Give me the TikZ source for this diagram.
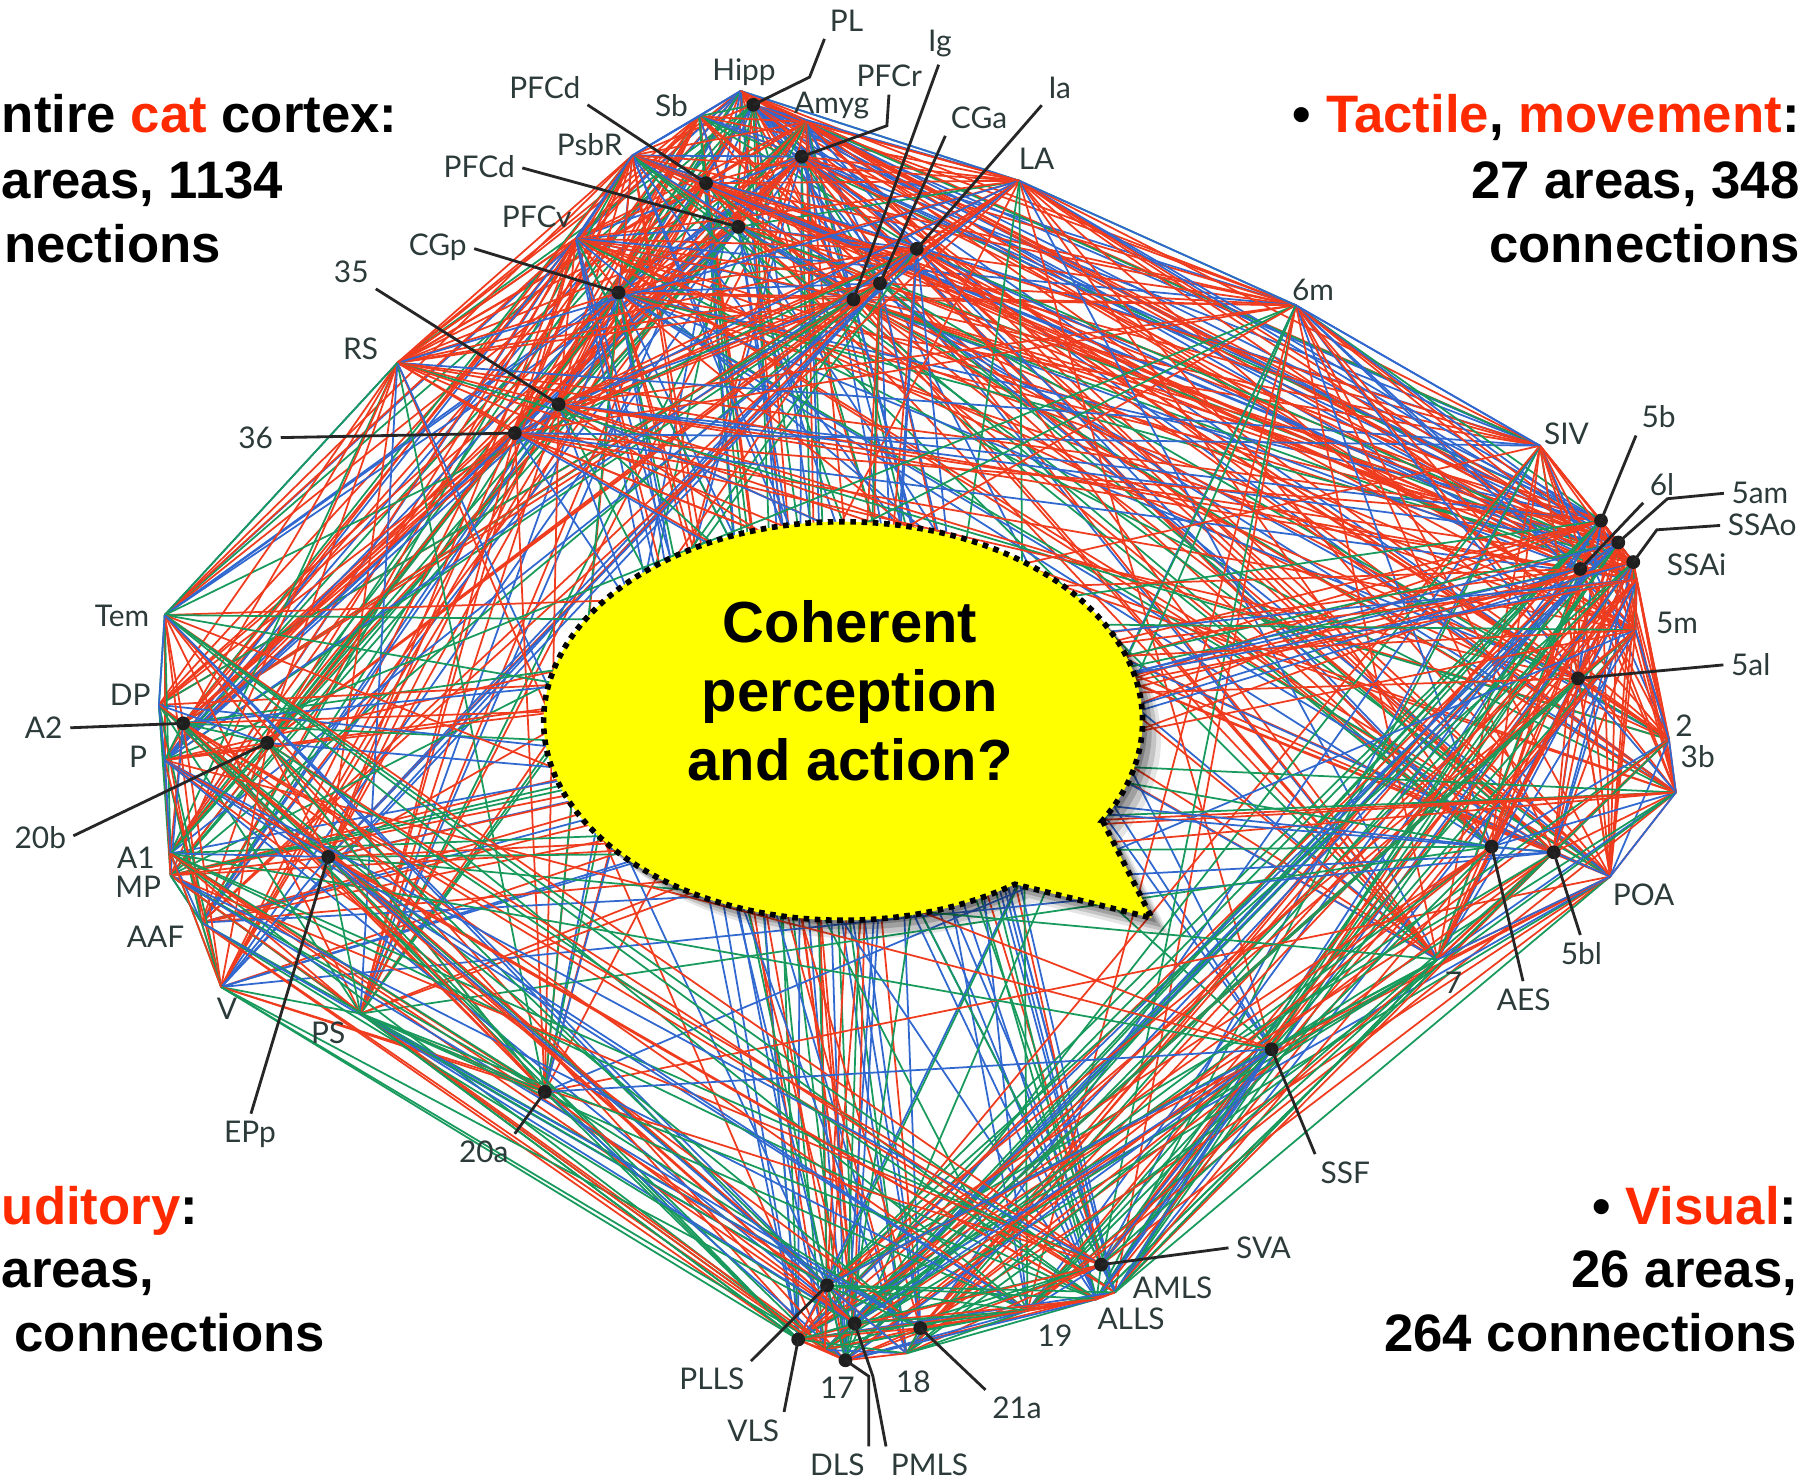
\documentclass[tikz,border=0pt]{standalone}
\usepackage{fontspec}
\setmainfont{Liberation Sans}
\newfontfamily\areafont{Lato}
\usepackage{tikz}

\definecolor{netred}{HTML}{F03C1E}
\definecolor{netgreen}{HTML}{189A5C}
\definecolor{netblue}{HTML}{3068D0}
\definecolor{areagray}{HTML}{2C3A3A}
\definecolor{hired}{HTML}{FF2A00}
\definecolor{bubble}{HTML}{FFFF00}

% areas: name/group (0 frontal-limbic, 1 somatomotor, 2 auditory, 3 visual)
\def\arealist{Hipp/0, PL/0, Sb/0, Amyg/0, PFCr/0, PFCd1/0, PFCd2/0, PsbR/0, PFCv/0, CGp/0,
  Ig/0, CGa/0, Ia/0, LA/0, ar35/0, RS/0, ar36/0,
  ar6m/1, SIV/1, ar5b/1, ar6l/1, ar5am/1, SSAo/1, SSAi/1, ar5m/1, ar5al/1, ar2/1, ar3b/1,
  POA/1, ar5bl/1, AES/1, ar7/1,
  Tem/2, DP/2, A2/2, P/2, ar20b/2, A1/2, MP/2, AAF/2, V/2, EPp/2, PS/2, ar20a/2,
  SSF/3, SVA/3, AMLS/3, ALLS/3, ar19/3, ar21a/3, ar18/3, PMLS/3, ar17/3, DLS/3, VLS/3, PLLS/3}
% link probability and colour mix per pair of groups
\def\plink{{0.92,0.60,0.50,0.35, 0.60,0.90,0.25,0.45, 0.50,0.25,0.80,0.40, 0.35,0.45,0.40,0.80}}
\def\pred{{0.78,0.65,0.55,0.30, 0.65,0.72,0.45,0.35, 0.55,0.45,0.50,0.30, 0.30,0.35,0.30,0.35}}
\def\pgreen{{0.08,0.12,0.25,0.25, 0.12,0.08,0.30,0.45, 0.25,0.30,0.35,0.45, 0.25,0.45,0.45,0.40}}

\tikzset{
  area/.style={font=\areafont\fontsize{8.5}{9}\selectfont, text=areagray, inner sep=1pt},
  lead/.style={line width=0.8pt, black!85, shorten <=1pt},
  link/.style={line width=0.5pt},
  big/.style={font=\bfseries\fontsize{15}{18.4}\selectfont, inner sep=0pt},
}

\def\bubblepath{(957.2,712.5) -- (1000,797) -- (881.1,767.7)
  arc[start angle=55, end angle=390, x radius=260, y radius=173] -- cycle}

\begin{document}
\begin{tikzpicture}[x=0.011518cm, y=-0.011518cm]
  \useasboundingbox (0,0) rectangle (1568,1286);
  \fill[white] (0,0) rectangle (1568,1286);

  % frontal and limbic areas
  \coordinate (Hipp)  at (643,79);
  \coordinate (PL)    at (654,91);
  \coordinate (Sb)    at (607,101);
  \coordinate (Amyg)  at (700,106);
  \coordinate (PFCr)  at (696,136);
  \coordinate (PFCd1) at (613,159);
  \coordinate (PFCd2) at (641,197);
  \coordinate (PsbR)  at (549,135);
  \coordinate (PFCv)  at (500,207);
  \coordinate (CGp)   at (537,254);
  \coordinate (Ig)    at (741,260);
  \coordinate (CGa)   at (764,246);
  \coordinate (Ia)    at (796,216);
  \coordinate (LA)    at (885,157);
  \coordinate (ar35)  at (485,351);
  \coordinate (RS)    at (345,315);
  \coordinate (ar36)  at (447,376);
  % somatosensory and motor areas
  \coordinate (ar6m)  at (1125,265);
  \coordinate (SIV)   at (1337,387);
  \coordinate (ar5b)  at (1390,452);
  \coordinate (ar6l)  at (1372,494);
  \coordinate (ar5am) at (1405,471);
  \coordinate (SSAo)  at (1418,488);
  \coordinate (SSAi)  at (1421,503);
  \coordinate (ar5m)  at (1420,547);
  \coordinate (ar5al) at (1370,589);
  \coordinate (ar2)   at (1449,642);
  \coordinate (ar3b)  at (1455,688);
  \coordinate (POA)   at (1398,761);
  \coordinate (ar5bl) at (1349,740);
  \coordinate (AES)   at (1295,735);
  \coordinate (ar7)   at (1248,833);
  % auditory areas
  \coordinate (Tem)   at (143,534);
  \coordinate (DP)    at (138,612);
  \coordinate (A2)    at (159,628);
  \coordinate (P)     at (143,660);
  \coordinate (ar20b) at (232,645);
  \coordinate (A1)    at (148,741);
  \coordinate (MP)    at (148,760);
  \coordinate (AAF)   at (175,801);
  \coordinate (V)     at (192,857);
  \coordinate (EPp)   at (285,744);
  \coordinate (PS)    at (313,880);
  \coordinate (ar20a) at (473,948);
  % visual areas
  \coordinate (SSF)   at (1104,911);
  \coordinate (SVA)   at (956,1098);
  \coordinate (AMLS)  at (968,1122);
  \coordinate (ALLS)  at (952,1128);
  \coordinate (ar19)  at (892,1138);
  \coordinate (ar21a) at (799,1153);
  \coordinate (ar18)  at (787,1175);
  \coordinate (PMLS)  at (742,1149);
  \coordinate (ar17)  at (716,1172);
  \coordinate (DLS)   at (734,1181);
  \coordinate (VLS)   at (693,1163);
  \coordinate (PLLS)  at (718,1116);

  % connections
  \pgfmathsetseed{1134}
  \foreach \a/\ga [count=\i] in \arealist {
    \foreach \b/\gb [count=\j] in \arealist {
      \ifnum\j>\i\relax
        \pgfmathtruncatemacro\k{4*\ga+\gb}
        \pgfmathsetmacro\p{\plink[\k]}
        \pgfmathsetmacro\r{rnd}
        \pgfmathsetmacro\rb{rnd}
        \pgfmathtruncatemacro\keep{\r<\p ? 1 : 0}
        \ifnum\keep=1\relax
          \pgfmathsetmacro\pr{\pred[\k]}
          \pgfmathsetmacro\pg{\pgreen[\k]}
          \pgfmathtruncatemacro\c{\rb<\pr ? 0 : (\rb<\pr+\pg ? 1 : 2)}
          \ifcase\c \def\col{netred}\or \def\col{netgreen}\else \def\col{netblue}\fi
          \draw[link,\col] (\a) -- (\b);
        \fi
      \fi
    }
  }
  % outline of the network
  \foreach \a/\b/\col in {Hipp/Sb/netblue, Sb/PsbR/netblue, PsbR/PFCv/netblue, PFCv/RS/netred,
      RS/Tem/netgreen, Tem/DP/netblue, DP/A2/netred, DP/P/netblue, P/A1/netblue, A1/MP/netred,
      MP/AAF/netgreen, AAF/V/netgreen, V/A1/netred, PS/ar20a/netgreen, ar20a/VLS/netgreen,
      PS/VLS/netgreen, VLS/DLS/netred, DLS/ar18/netred, ar18/ar21a/netgreen, ar21a/ar19/netred,
      ar19/ALLS/netred, ALLS/AMLS/netred, AMLS/ar7/netgreen, SVA/ar7/netgreen, ar7/POA/netblue,
      POA/ar3b/netblue, ar3b/ar2/netblue, ar2/ar5m/netblue, ar5m/SSAi/netred, SSAi/SSAo/netred,
      SSAo/ar5b/netred, ar5b/SIV/netred, SIV/ar6m/netblue, ar6m/LA/netblue, LA/Hipp/netblue,
      Hipp/Amyg/netred, Amyg/LA/netred}
    \draw[link,\col] (\a) -- (\b);

  % speech bubble
  \foreach \s/\o in {4/0.22,8/0.18,12/0.14,16/0.10}
    \fill[black,opacity=\o,shift={(\s,\s)}] \bubblepath;
  \fill[bubble] \bubblepath;
  \draw[line width=1.6pt, dash pattern=on 1.6pt off 1.6pt] \bubblepath;
  \node[font=\bfseries\fontsize{16.5}{19.6}\selectfont, align=center] (question) at (738,600)
    {Coherent\\perception\\and action?};

  % marked areas
  \foreach \a in {PL,PFCr,PFCd1,PFCd2,CGp,Ig,CGa,Ia,ar35,ar36,ar5b,ar6l,ar5am,SSAo,ar5al,
      ar5bl,AES,A2,ar20b,EPp,ar20a,SSF,SVA,ar21a,PMLS,DLS,VLS,PLLS}
    \fill[black!88] (\a) circle[radius=6];

  % area labels
  \node[area] (lPL)    at (735,18)   {PL};
  \node[area] (lHipp)  at (646,63)   {Hipp};
  \node[area] (lSb)    at (583,92)   {Sb};
  \node[area] (lAmyg)  at (722,92)   {Amyg};
  \node[area] (lPFCr)  at (772,66)   {PFCr};
  \node[area] (lIg)    at (816,38)   {Ig};
  \node[area] (lIa)    at (920,76)   {Ia};
  \node[area] (lCGa)   at (850,102)  {CGa};
  \node[area] (lLA)    at (900,138)  {LA};
  \node[area] (lPFCd1) at (473,76)   {PFCd};
  \node[area] (lPsbR)  at (512,126)  {PsbR};
  \node[area] (lPFCd2) at (416,145)  {PFCd};
  \node[area] (lPFCv)  at (466,188)  {PFCv};
  \node[area] (lCGp)   at (380,215)  {CGp};
  \node[area] (l35)    at (305,236)  {35};
  \node[area] (lRS)    at (313,303)  {RS};
  \node[area] (l36)    at (222,380)  {36};
  \node[area] (l6m)    at (1140,252) {6m};
  \node[area] (lSIV)   at (1360,377) {SIV};
  \node[area] (l5b)    at (1440,362) {5b};
  \node[area] (l6l)    at (1443,421) {6l};
  \node[area] (l5am)   at (1528,428) {5am};
  \node[area] (lSSAo)  at (1530,456) {SSAo};
  \node[area] (lSSAi)  at (1473,490) {SSAi};
  \node[area] (l5m)    at (1456,541) {5m};
  \node[area] (l5al)   at (1520,577) {5al};
  \node[area] (l2)     at (1462,630) {2};
  \node[area] (l3b)    at (1474,657) {3b};
  \node[area] (lPOA)   at (1427,777) {POA};
  \node[area] (l5bl)   at (1373,828) {5bl};
  \node[area] (lAES)   at (1323,868) {AES};
  \node[area] (l7)     at (1262,853) {7};
  \node[area] (lSSF)   at (1168,1018) {SSF};
  \node[area] (lSVA)   at (1097,1083) {SVA};
  \node[area] (lAMLS)  at (1018,1118) {AMLS};
  \node[area] (lALLS)  at (982,1145) {ALLS};
  \node[area] (l19)    at (916,1160) {19};
  \node[area] (l21a)   at (883,1222) {21a};
  \node[area] (l18)    at (793,1200) {18};
  \node[area] (l17)    at (727,1205) {17};
  \node[area] (lPMLS)  at (807,1272) {PMLS};
  \node[area] (lDLS)   at (727,1272) {DLS};
  \node[area] (lVLS)   at (654,1242) {VLS};
  \node[area] (lPLLS)  at (618,1197) {PLLS};
  \node[area] (lTem)   at (106,535)  {Tem};
  \node[area] (lDP)    at (113,603)  {DP};
  \node[area] (lA2)    at (38,632)   {A2};
  \node[area] (lP)     at (120,657)  {P};
  \node[area] (l20b)   at (35,727)   {20b};
  \node[area] (lA1)    at (118,745)  {A1};
  \node[area] (lMP)    at (120,770)  {MP};
  \node[area] (lAAF)   at (135,813)  {AAF};
  \node[area] (lV)     at (197,876)  {V};
  \node[area] (lEPp)   at (217,985)  {EPp};
  \node[area] (lPS)    at (285,897)  {PS};
  \node[area] (l20a)   at (420,1000) {20a};

  % leaders
  \draw[lead] (lPL.south west) -- ++(-14,36) -- (PL);
  \draw[lead] (lPFCr.south) -- ++(-2,30) -- (PFCr);
  \draw[lead] (lIg.south) -- (Ig);
  \draw[lead] (lIa.south west) -- (Ia);
  \draw[lead] (lCGa.south west) -- (CGa);
  \draw[lead] (lPFCd1.south east) -- (PFCd1);
  \draw[lead] (lPFCd2.east) -- (PFCd2);
  \draw[lead] (lCGp.east) -- (CGp);
  \draw[lead] (l35.south east) -- (ar35);
  \draw[lead] (l36.east) -- (ar36);
  \draw[lead] (l5b.south west) -- (ar5b);
  \draw[lead] (l6l.south west) -- (ar6l);
  \draw[lead] (l5am.west) -- ++(-52,5) -- (ar5am);
  \draw[lead] (lSSAo.west) -- ++(-58,4) -- (SSAo);
  \draw[lead] (l5al.west) -- (ar5al);
  \draw[lead] (lAES.north) -- (AES);
  \draw[lead] (l5bl.north) -- (ar5bl);
  \draw[lead] (lSSF.north west) -- (SSF);
  \draw[lead] (lSVA.west) -- (SVA);
  \draw[lead] (l21a.north west) -- (ar21a);
  \draw[lead] (lPMLS.north west) -- ++(-12,-64) -- (PMLS);
  \draw[lead] (lDLS.north east) -- ++(0,-64) -- (DLS);
  \draw[lead] (lVLS.north east) -- (VLS);
  \draw[lead] (lPLLS.north east) -- (PLLS);
  \draw[lead] (lA2.east) -- (A2);
  \draw[lead] (l20b.east) -- (ar20b);
  \draw[lead] (lEPp.north) -- (EPp);
  \draw[lead] (l20a.north east) -- (ar20a);

  % captions in the corners
  \node[big, anchor=base west] (cortex1) at (1,115) {ntire \textcolor{hired}{cat} cortex:};
  \node[big, anchor=base west] (cortex2) at (1,172) {areas, 1134};
  \node[big, anchor=base west] (cortex3) at (3,228) {nections};
  \node[big, anchor=base east] (tact1) at (1563,115)
    {\textbullet\ \textcolor{hired}{Tactile}, \textcolor{hired}{movement}:};
  \node[big, anchor=base east] (tact2) at (1563,172) {27 areas, 348};
  \node[big, anchor=base east] (tact3) at (1563,228) {connections};
  \node[big, anchor=base west] (aud1) at (1,1063) {\textcolor{hired}{uditory}:};
  \node[big, anchor=base west] (aud2) at (1,1118) {areas,};
  \node[big, anchor=base west] (aud3) at (12,1173) {connections};
  \node[big, anchor=base east] (vis1) at (1561,1063) {\textbullet\ \textcolor{hired}{Visual}:};
  \node[big, anchor=base east] (vis2) at (1561,1118) {26 areas,};
  \node[big, anchor=base east] (vis3) at (1561,1173) {264 connections};
\end{tikzpicture}
\end{document}
